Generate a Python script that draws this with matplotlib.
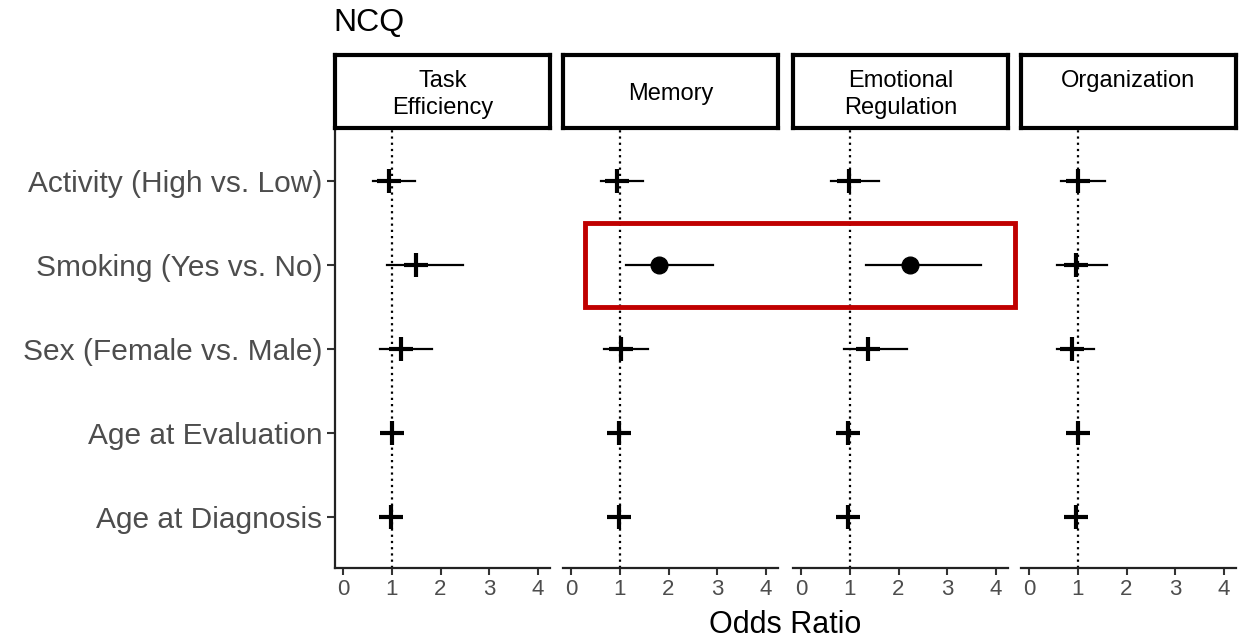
import numpy as np
import matplotlib
matplotlib.use("Agg")
import matplotlib.pyplot as plt
from matplotlib.patches import Rectangle

plt.rcParams['font.family'] = ['Liberation Sans', 'DejaVu Sans']

# data (odds ratios + 95% CI), rows top to bottom
predictors = ["Activity (High vs. Low)", "Smoking (Yes vs. No)", "Sex (Female vs. Male)",
              "Age at Evaluation", "Age at Diagnosis"]
domains = ["Task\nEfficiency", "Memory", "Emotional\nRegulation", "Organization\n"]

or_task = [0.93, 1.49, 1.19, 1.01, 0.98]
lo_task = [0.62, 0.90, 0.76, 0.96, 0.94]
hi_task = [1.48, 2.47, 1.83, 1.05, 1.03]

or_mem = [0.95, 1.81, 1.02, 0.98, 0.98]
lo_mem = [0.62, 1.13, 0.67, 0.95, 0.95]
hi_mem = [1.48, 2.91, 1.57, 1.02, 1.02]

or_emo = [0.99, 2.24, 1.37, 0.97, 0.97]
lo_emo = [0.61, 1.33, 0.87, 0.94, 0.94]
hi_emo = [1.59, 3.70, 2.17, 1.01, 1.01]

or_org = [1.01, 0.96, 0.87, 1.01, 0.97]
lo_org = [0.66, 0.57, 0.58, 0.97, 0.94]
hi_org = [1.55, 1.59, 1.33, 1.05, 1.01]

# significant = CI excludes 1
signif = [[False, False, False, False, False],
          [False, True, False, False, False],
          [False, True, False, False, False],
          [False, False, False, False, False]]

est = [or_task, or_mem, or_emo, or_org]
low = [lo_task, lo_mem, lo_emo, lo_org]
high = [hi_task, hi_mem, hi_emo, hi_org]

W, H = 1251, 638
fig = plt.figure(figsize=(W / 100, H / 100), dpi=100)

panel_left = [335, 563, 793, 1021]
panel_w = 215
top, bottom = 130, 568
strip_top, strip_bot = 55, 128

ypos = np.arange(len(predictors))[::-1] + 1  # top row highest
grey = "#4D4D4D"

axes = []
for k in range(4):
    x0 = panel_left[k]
    ax = fig.add_axes([x0 / W, 1 - bottom / H, panel_w / W, (bottom - top) / H])
    axes.append(ax)
    ax.axvline(1, color="black", linestyle=(0, (1, 1.8)), lw=1.6, zorder=1)
    for i in range(len(predictors)):
        ax.plot([low[k][i], high[k][i]], [ypos[i], ypos[i]], color="black", lw=1.6, zorder=2)
        if signif[k][i]:
            ax.plot(est[k][i], ypos[i], marker="o", color="black", ms=12, zorder=3)
        else:
            ax.plot(est[k][i], ypos[i], marker="+", color="black", ms=17, mew=3, zorder=3)
    ax.set_xlim(-0.17, 4.25)
    ax.set_ylim(0.4, 5.6)
    ax.set_xticks([0, 1, 2, 3, 4])
    ax.tick_params(axis="x", labelsize=16, labelcolor=grey, color="#333333",
                   length=5, width=1.5, pad=3)
    for s in ["top", "right"]:
        ax.spines[s].set_visible(False)
    ax.spines["bottom"].set_linewidth(1.6)
    ax.spines["bottom"].set_color("#222222")
    if k == 0:
        ax.set_yticks(ypos)
        ax.set_yticklabels(predictors)
        ax.tick_params(axis="y", labelsize=21.5, labelcolor=grey, color="#333333",
                       length=6, width=1.5, pad=3)
        ax.spines["left"].set_linewidth(1.6)
        ax.spines["left"].set_color("#222222")
    else:
        ax.spines["left"].set_visible(False)
        ax.set_yticks([])

    # facet strip
    sax = fig.add_axes([x0 / W, 1 - strip_bot / H, panel_w / W, (strip_bot - strip_top) / H])
    sax.set_xticks([])
    sax.set_yticks([])
    for s in sax.spines.values():
        s.set_linewidth(3)
        s.set_color("black")
    sax.text(0.5, 0.46, domains[k], ha="center", va="center", fontsize=17,
             color="black", transform=sax.transAxes, linespacing=1.3)

fig.text(333 / W, 1 - 23 / H, "NCQ", fontsize=23, ha="left", va="center", color="black")
fig.text(785 / W, 1 - 625 / H, "Odds Ratio", fontsize=22, ha="center",
         va="center", color="black")

# highlight box around the significant smoking effects (Memory -> Emotional Regulation)
fig.canvas.draw()
inv = fig.transFigure.inverted()
row = ypos[1]
p0 = inv.transform(axes[1].transData.transform((0.29, row - 0.5)))
p1 = inv.transform(axes[2].transData.transform((4.39, row + 0.5)))
fig.add_artist(Rectangle((p0[0], p0[1]), p1[0] - p0[0], p1[1] - p0[1],
                         transform=fig.transFigure, fill=False,
                         edgecolor="#C00000", lw=3.5, zorder=10))

fig.savefig("out.png", dpi=100)
